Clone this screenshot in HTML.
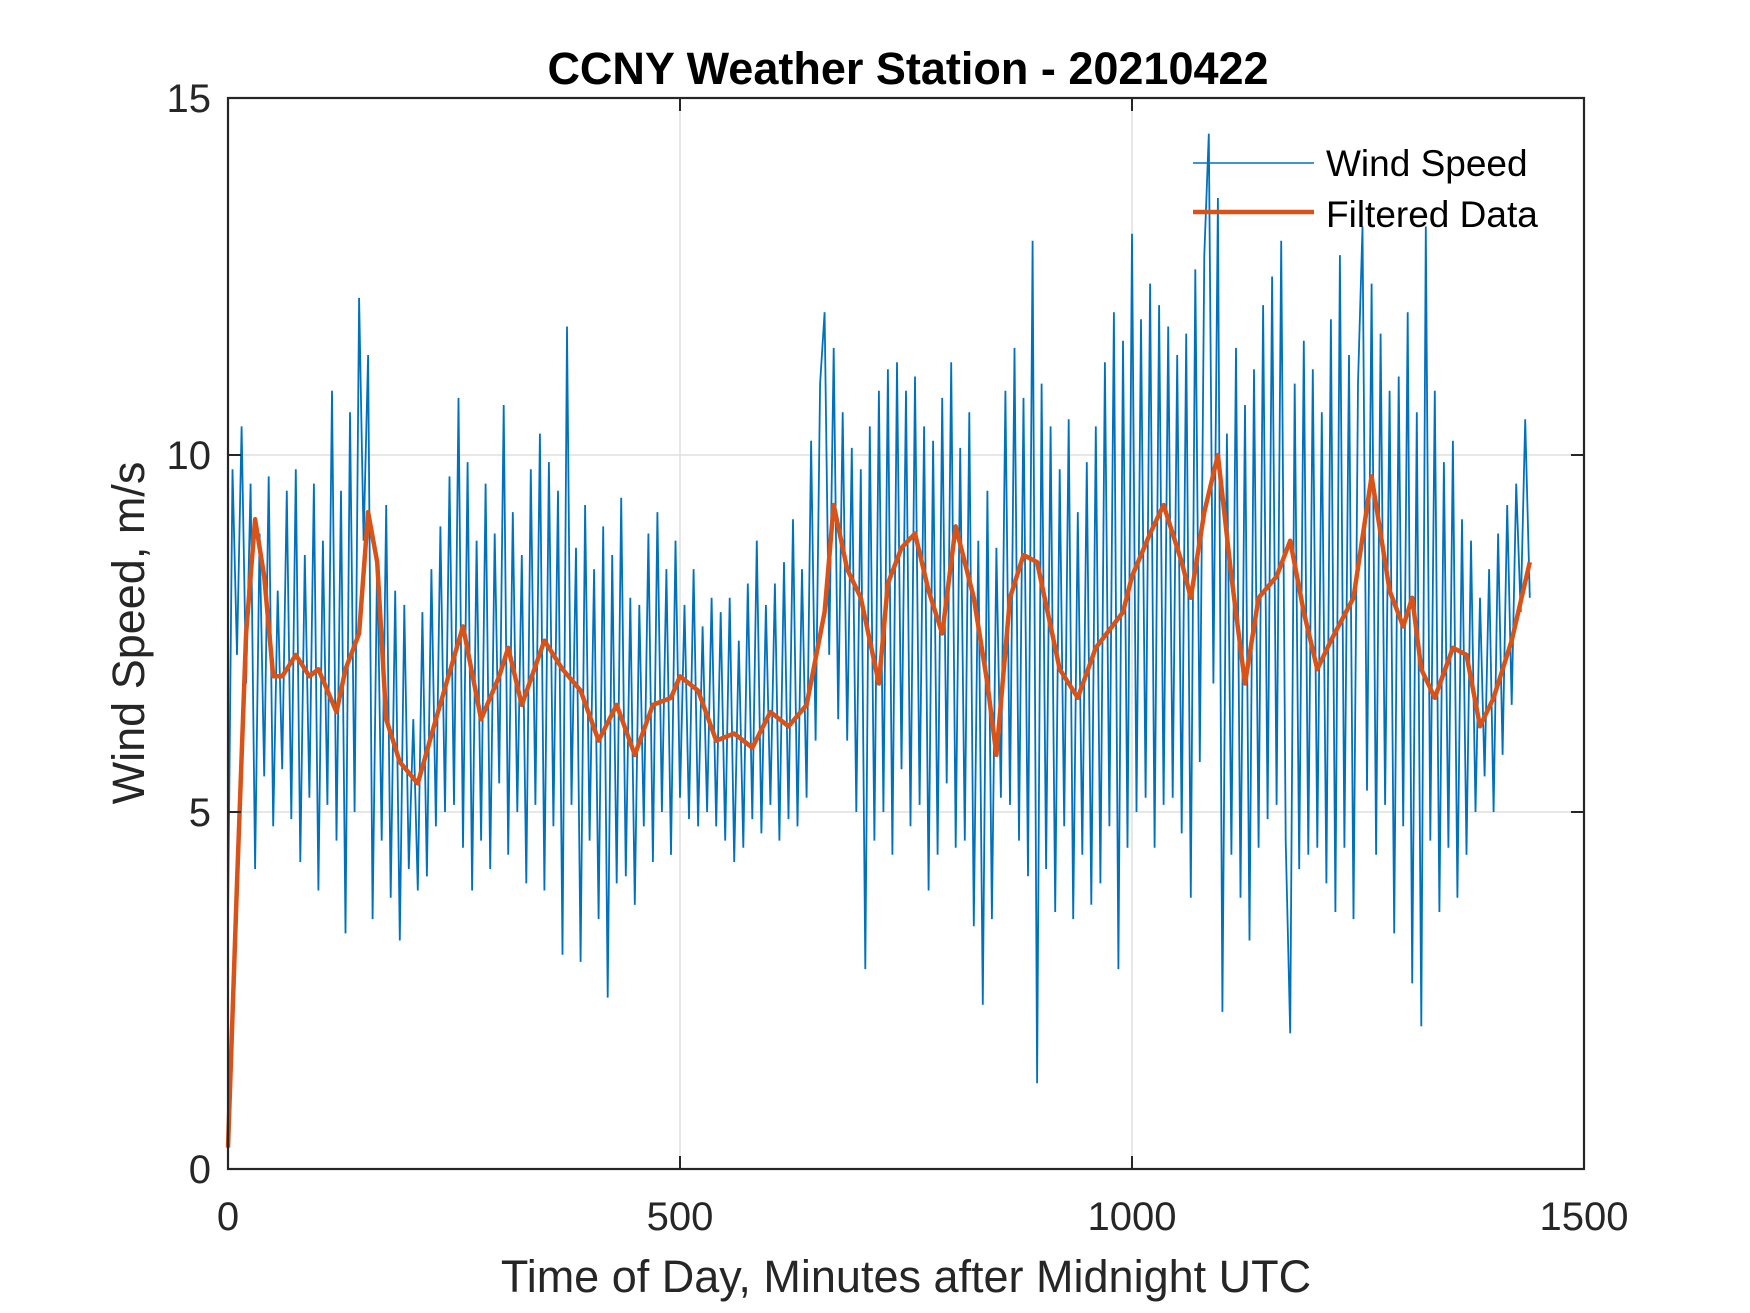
<!DOCTYPE html>
<html><head><meta charset="utf-8">
<style>
html,body{margin:0;padding:0;background:#fff;}
svg{display:block;font-family:"Liberation Sans",Arial,sans-serif;}
</style></head>
<body>
<svg id="chart" width="1750" height="1313" viewBox="0 0 1750 1313" xmlns="http://www.w3.org/2000/svg">
<rect x="0" y="0" width="1750" height="1313" fill="#fff"/>
<g id="grid"></g>
<g id="raw"></g>
<g id="filt"></g>
<g id="axes"></g>
<text x="908" y="84" text-anchor="middle" font-size="45" font-weight="bold" fill="#000">CCNY Weather Station - 20210422</text>
<text x="906" y="1292" text-anchor="middle" font-size="45" fill="#262626">Time of Day, Minutes after Midnight UTC</text>
<text transform="translate(144,633) rotate(-90)" text-anchor="middle" font-size="45" fill="#262626">Wind Speed, m/s</text>
<g>
  <line x1="1193" y1="163" x2="1314" y2="163" stroke="#0072bd" stroke-width="1.5"/>
  <text x="1326" y="176" font-size="37" fill="#000">Wind Speed</text>
  <line x1="1193" y1="212" x2="1314" y2="212" stroke="#d95319" stroke-width="4.5"/>
  <text x="1326" y="227" font-size="37" fill="#000">Filtered Data</text>
</g>
</svg>
<script>
const rawStep = 5;
const windSpeed = [
3.5,9.8,7.2,10.4,6.8,9.6,4.2,8.9,5.5,9.7,4.8,8.1,
5.6,9.5,4.9,9.8,4.3,8.6,5.2,9.6,3.9,8.8,5.1,10.9,
4.6,9.5,3.3,10.6,5.0,12.2,8.8,11.4,3.5,8.6,4.6,9.3,
3.8,8.1,3.2,7.9,4.2,6.3,3.9,7.8,4.1,8.4,4.8,9.0,
5.0,9.7,5.1,10.8,4.5,9.9,3.9,8.8,4.6,9.6,4.2,8.9,
5.4,10.7,4.4,9.2,5.0,8.6,4.0,9.8,5.1,10.3,3.9,9.9,
4.8,9.5,3.0,11.8,5.1,8.7,2.9,9.3,4.6,8.4,3.5,9.0,
2.4,8.6,4.0,9.4,4.1,8.0,3.7,7.9,4.8,8.9,4.3,9.2,
5.0,8.4,4.4,8.8,5.2,7.9,4.9,8.4,4.8,7.6,5.0,8.0,
4.8,7.8,4.6,8.0,4.3,7.4,4.5,8.2,4.9,8.8,4.7,7.9,
5.1,8.2,4.6,8.5,4.9,9.1,4.8,8.4,5.2,10.2,6.0,11.0,
12.0,7.2,11.5,6.3,10.6,6.0,10.1,5.0,9.8,2.8,10.4,4.6,
10.9,5.0,11.2,4.4,11.3,5.6,10.9,4.8,11.1,5.1,10.4,3.9,
10.2,4.4,10.8,5.4,11.3,4.5,10.1,4.6,10.6,3.4,8.8,2.3,
9.5,3.5,8.7,5.2,10.9,5.1,11.5,4.6,10.8,4.1,13.0,1.2,
11.0,4.2,10.4,3.6,9.8,4.8,10.5,3.5,9.2,4.4,9.9,3.7,
10.4,4.0,11.3,4.8,12.0,2.8,11.6,4.5,13.1,5.0,11.9,5.2,
12.4,4.5,12.1,5.1,11.8,5.2,11.4,4.7,11.7,3.8,12.6,5.7,
12.8,14.5,6.8,13.6,2.2,10.3,4.4,11.5,3.8,10.7,3.2,11.2,
4.5,12.1,4.9,12.5,5.1,13.0,4.6,1.9,11.0,4.2,11.6,4.4,
11.2,4.5,10.6,4.0,11.9,3.6,12.8,4.5,11.4,3.5,11.0,13.2,
5.3,12.4,4.4,11.7,5.1,10.9,3.3,11.1,4.8,12.0,2.6,10.6,
2.0,13.2,4.6,10.9,3.6,9.9,4.5,10.2,3.8,9.1,4.4,8.8,
5.0,8.0,5.5,8.4,5.0,8.9,5.8,9.3,6.5,9.6,7.8,10.5,
8.0
];
const filtTimes = [0,10,20,30,40,50,60,75,90,100,120,130,145,155,165,175,190,210,230,260,280,300,310,325,350,370,390,410,430,450,470,490,500,520,540,560,580,600,620,640,660,670,685,700,720,730,745,760,775,790,805,825,840,850,865,880,895,920,940,960,990,1000,1020,1035,1055,1065,1080,1095,1110,1125,1140,1160,1175,1190,1205,1220,1245,1265,1285,1300,1310,1320,1335,1355,1370,1385,1400,1420,1440];
const filtValues = [0.3,4.0,7.5,9.1,8.3,6.9,6.9,7.2,6.9,7.0,6.4,7.0,7.5,9.2,8.5,6.3,5.7,5.4,6.3,7.6,6.3,6.9,7.3,6.5,7.4,7.0,6.7,6.0,6.5,5.8,6.5,6.6,6.9,6.7,6.0,6.1,5.9,6.4,6.2,6.5,7.8,9.3,8.4,8.0,6.8,8.2,8.7,8.9,8.1,7.5,9.0,8.0,6.8,5.8,8.0,8.6,8.5,7.0,6.6,7.3,7.8,8.3,8.9,9.3,8.5,8.0,9.2,10.0,8.3,6.8,8.0,8.3,8.8,7.8,7.0,7.4,8.0,9.7,8.1,7.6,8.0,7.0,6.6,7.3,7.2,6.2,6.6,7.4,8.5];
const xTicks = [0,500,1000,1500];
const yTicks = [0,5,10,15];

const L=228,R=1584,T=98,B=1169;
const xMin=0,xMax=1500,yMin=0,yMax=15;
const xs=v=>L+(v-xMin)/(xMax-xMin)*(R-L);
const ys=v=>B-(v-yMin)/(yMax-yMin)*(B-T);
const NS="http://www.w3.org/2000/svg";
function mk(tag,parent){const e=document.createElementNS(NS,tag);parent.appendChild(e);return e;}

const grid=document.getElementById('grid');
xTicks.slice(1,-1).forEach(t=>{const l=mk('line',grid);


l.setAttribute('x1',xs(t));l.setAttribute('x2',xs(t));l.setAttribute('y1',T);l.setAttribute('y2',B);l.setAttribute('stroke','#dfdfdf');l.setAttribute('stroke-width','1.5');});
yTicks.slice(1,-1).forEach(t=>{const l=mk('line',grid);


l.setAttribute('y1',ys(t));l.setAttribute('y2',ys(t));l.setAttribute('x1',L);l.setAttribute('x2',R);l.setAttribute('stroke','#dfdfdf');l.setAttribute('stroke-width','1.5');});

const raw=mk('polyline',document.getElementById('raw'));


raw.setAttribute('points',windSpeed.map((v,i)=>xs(i*rawStep).toFixed(1)+','+ys(v).toFixed(1)).join(' '));
raw.setAttribute('fill','none');raw.setAttribute('stroke','#0072bd');raw.setAttribute('stroke-width','1.8');

const fl=mk('polyline',document.getElementById('filt'));


fl.setAttribute('points',filtValues.map((v,i)=>xs(filtTimes[i]).toFixed(1)+','+ys(v).toFixed(1)).join(' '));
fl.setAttribute('fill','none');fl.setAttribute('stroke','#d95319');fl.setAttribute('stroke-width','4.5');fl.setAttribute('stroke-linejoin','round');

const ax=document.getElementById('axes');
const box=mk('rect',ax);


box.setAttribute('x',L);box.setAttribute('y',T);box.setAttribute('width',R-L);box.setAttribute('height',B-T);box.setAttribute('fill','none');box.setAttribute('stroke','#262626');box.setAttribute('stroke-width','2.2');
xTicks.forEach(t=>{
  [[B,B-13],[T,T+13]].forEach(p=>{const l=mk('line',ax);
  
  
  l.setAttribute('x1',xs(t));l.setAttribute('x2',xs(t));l.setAttribute('y1',p[0]);l.setAttribute('y2',p[1]);l.setAttribute('stroke','#262626');l.setAttribute('stroke-width','2');});
  const tx=mk('text',ax);
  
  
  tx.setAttribute('x',xs(t));tx.setAttribute('y',B+61);tx.setAttribute('text-anchor','middle');tx.setAttribute('font-size','40');tx.setAttribute('fill','#262626');tx.textContent=t;
});
yTicks.forEach(t=>{
  [[L,L+13],[R,R-13]].forEach(p=>{const l=mk('line',ax);
  
  
  l.setAttribute('y1',ys(t));l.setAttribute('y2',ys(t));l.setAttribute('x1',p[0]);l.setAttribute('x2',p[1]);l.setAttribute('stroke','#262626');l.setAttribute('stroke-width','2');});
  const tx=mk('text',ax);
  
  
  tx.setAttribute('x',L-17);tx.setAttribute('y',ys(t)+14);tx.setAttribute('text-anchor','end');tx.setAttribute('font-size','40');tx.setAttribute('fill','#262626');tx.textContent=t;
});
</script>
</body></html>
